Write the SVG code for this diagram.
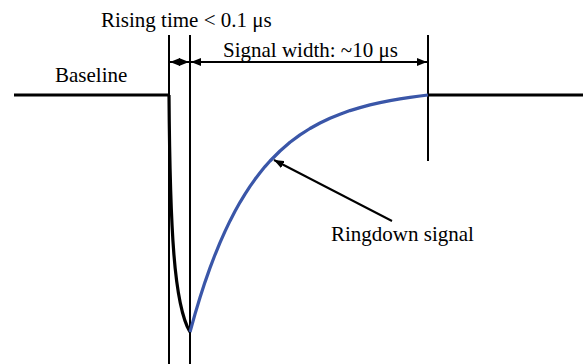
<svg xmlns="http://www.w3.org/2000/svg" width="584" height="364" viewBox="0 0 584 364">
<style>
text{font-family:"Liberation Serif","Times New Roman",serif;font-size:21px;fill:#000}
.thin{stroke:#000;stroke-width:2;fill:none}
.thick{stroke:#000;stroke-width:3.2;fill:none}
.arr{stroke:#000;stroke-width:2;fill:none}
</style>
<defs>
<marker id="ah" viewBox="0 0 10 8" refX="10" refY="4" markerWidth="10" markerHeight="8" markerUnits="userSpaceOnUse" orient="auto-start-reverse">
<path d="M0,0 L10,4 L0,8 Z" fill="#000"/>
</marker>
</defs>
<g id="baseline">
<line class="thick" x1="14" y1="95" x2="170" y2="95"/>
<line class="thick" x1="427" y1="95" x2="583" y2="95"/>
<text x="55" y="82">Baseline</text>
</g>
<g id="guides">
<line class="thin" x1="169" y1="35" x2="169" y2="364"/>
<line class="thin" x1="190" y1="35" x2="190" y2="364"/>
<line class="thin" x1="428" y1="35" x2="428" y2="161"/>
</g>
<g id="signal">
<path class="thick" d="M169,95 C170,230 174,305 190,332"/>
<polyline fill="none" stroke="#3a56a8" stroke-width="3.2" stroke-linejoin="round" points="190,332 195,314.1 200,297.5 205,282.1 210,267.9 215,254.8 220,242.6 225,231.4 230,220.9 235,211.2 240,202.3 245,194.1 250,186.4 255,179.3 260,172.7 265,166.6 270,161 280,151 290,142.3 300,134.9 310,128.5 320,123 330,118.2 340,114.2 350,110.6 360,107.6 370,104.9 380,102.6 390,100.6 400,98.9 410,97.4 420,96 428,95"/>
</g>
<g id="rising">
<line class="arr" x1="170" y1="62" x2="189" y2="62" marker-start="url(#ah)" marker-end="url(#ah)"/>
<text x="101" y="27">Rising time &lt; 0.1 μs</text>
</g>
<g id="width">
<line class="arr" x1="191" y1="62" x2="427" y2="62" marker-start="url(#ah)" marker-end="url(#ah)"/>
<text x="223" y="57">Signal width: ~10 μs</text>
</g>
<g id="connectors">
<line class="arr" x1="392" y1="221" x2="274" y2="160" marker-end="url(#ah)"/>
</g>
<g id="label">
<text x="331" y="241">Ringdown signal</text>
</g>
</svg>
